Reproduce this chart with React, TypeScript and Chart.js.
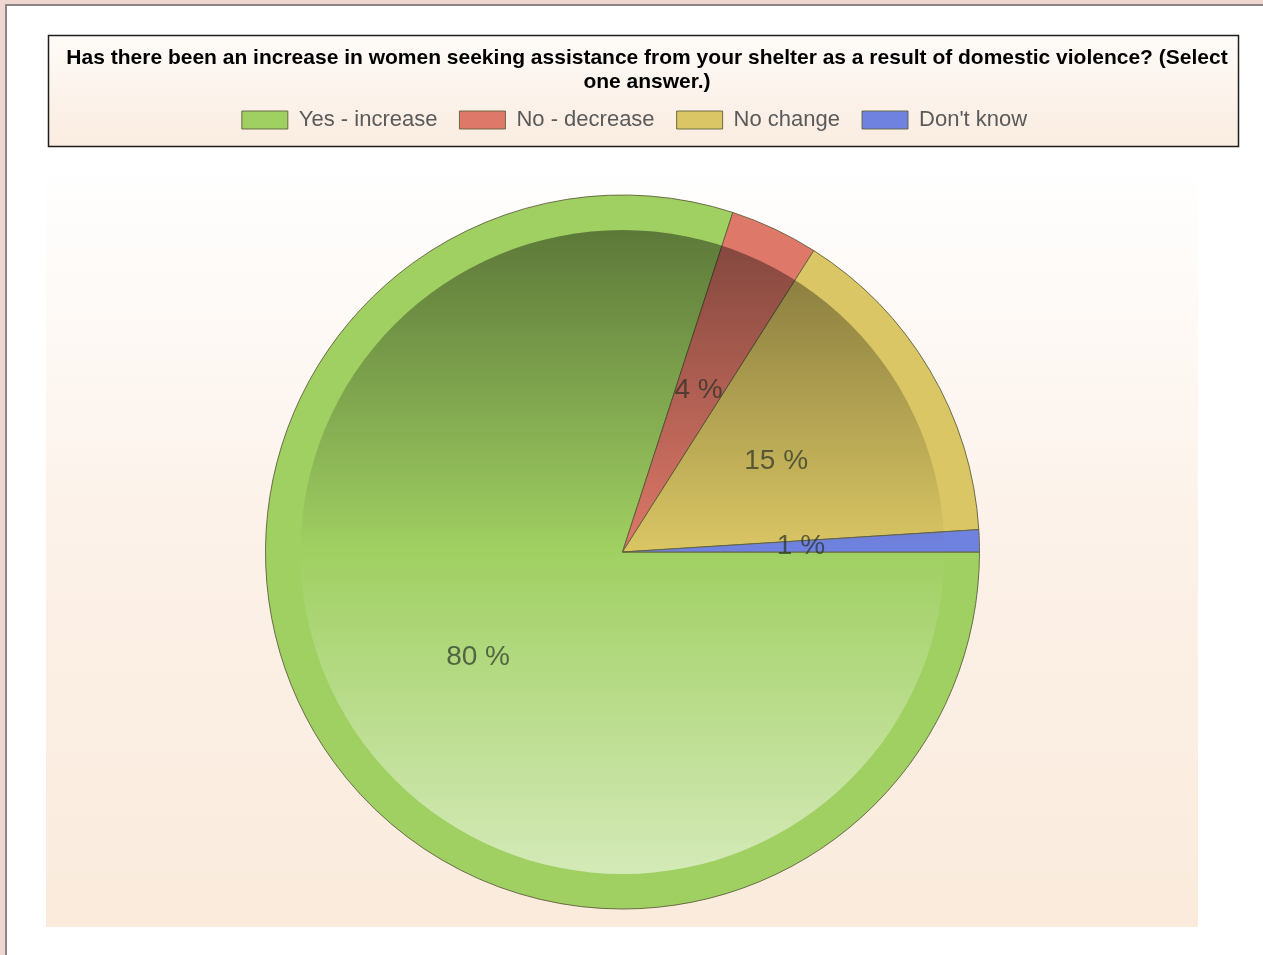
import React, { useEffect, useRef } from 'react';
import { Chart, registerables } from 'chart.js';

Chart.register(...registerables);

const titleLines = [
  'Has there been an increase in women seeking assistance from your shelter as a result of domestic violence? (Select',
  'one answer.)',
];
const categories = ['Yes - increase', 'No - decrease', 'No change', "Don't know"];
const percentages = [80, 4, 15, 1];
const sliceColors = ['#a0d062', '#de7868', '#dac664', '#7082e0'];

const backgroundPlugin = {
  id: 'pageBackground',
  beforeDraw(chart: any) {
    const ctx = chart.ctx as CanvasRenderingContext2D;
    const w = chart.width;
    const h = chart.height;
    ctx.save();
    ctx.fillStyle = '#ffffff';
    ctx.fillRect(0, 0, w, h);
    // pink frame
    ctx.fillStyle = '#efd8d2';
    ctx.fillRect(0, 0, w, 5);
    ctx.fillRect(0, 0, 6, h);
    ctx.strokeStyle = '#8e8484';
    ctx.lineWidth = 2;
    ctx.beginPath();
    ctx.moveTo(6, h);
    ctx.lineTo(6, 5);
    ctx.lineTo(w, 5);
    ctx.stroke();
    // plot area background
    const pg = ctx.createLinearGradient(0, 160, 0, 927);
    pg.addColorStop(0, '#ffffff');
    pg.addColorStop(0.5, '#fcf1e8');
    pg.addColorStop(1, '#faebdc');
    ctx.fillStyle = pg;
    ctx.fillRect(46, 160, 1152, 767);
    // title / legend box
    const tg = ctx.createLinearGradient(0, 35, 0, 146);
    tg.addColorStop(0, '#fefbf8');
    tg.addColorStop(1, '#faece0');
    ctx.fillStyle = tg;
    ctx.fillRect(48.5, 35.5, 1190, 111);
    ctx.strokeStyle = '#1e1e1e';
    ctx.lineWidth = 1.5;
    ctx.strokeRect(48.5, 35.5, 1190, 111);
    ctx.restore();
  },
};

// places the pie inside the framed plot region
const pieAreaPlugin = {
  id: 'pieArea',
  afterLayout(chart: any) {
    chart.chartArea = { left: 265, top: 194.5, right: 980, bottom: 909.5, width: 715, height: 715 };
  },
};

const glossPlugin = {
  id: 'gloss',
  afterDatasetsDraw(chart: any) {
    const meta = chart.getDatasetMeta(0);
    const arc = meta.data[0];
    if (!arc) return;
    const { x, y, outerRadius } = arc.getProps(['x', 'y', 'outerRadius'], true);
    const r = outerRadius * 0.902;
    const ctx = chart.ctx as CanvasRenderingContext2D;
    ctx.save();
    ctx.beginPath();
    ctx.arc(x, y, r, 0, Math.PI * 2);
    ctx.clip();
    const g = ctx.createLinearGradient(0, y - r, 0, y + r);
    g.addColorStop(0, 'rgba(0,0,0,0.42)');
    g.addColorStop(0.5, 'rgba(0,0,0,0)');
    g.addColorStop(0.5, 'rgba(255,255,255,0)');
    g.addColorStop(1, 'rgba(255,255,255,0.55)');
    ctx.fillStyle = g;
    ctx.fillRect(x - r, y - r, 2 * r, 2 * r);
    ctx.restore();
  },
};

const valueLabelPlugin = {
  id: 'valueLabels',
  afterDatasetsDraw(chart: any) {
    const ctx = chart.ctx as CanvasRenderingContext2D;
    const meta = chart.getDatasetMeta(0);
    const data = chart.data.datasets[0].data as number[];
    ctx.save();
    ctx.font = '28px Arial, "Liberation Sans", sans-serif';
    ctx.fillStyle = 'rgba(35,45,35,0.68)';
    ctx.textAlign = 'center';
    ctx.textBaseline = 'middle';
    meta.data.forEach((el: any, i: number) => {
      const p = el.tooltipPosition(true);
      ctx.fillText(`${data[i]} %`, p.x, p.y);
    });
    ctx.restore();
  },
};

export default function App() {
  const canvasRef = useRef<HTMLCanvasElement | null>(null);

  useEffect(() => {
    const canvas = canvasRef.current;
    if (!canvas) return;
    const chart = new Chart(canvas, {
      type: 'pie',
      data: {
        labels: categories,
        datasets: [
          {
            data: percentages,
            backgroundColor: sliceColors,
            borderColor: 'rgba(95,95,60,0.9)',
            borderWidth: 1,
          },
        ],
      },
      options: {
        animation: false,
        responsive: false,
        devicePixelRatio: 1,
        rotation: 90,
        layout: { padding: { left: 6, right: 0, top: 0, bottom: 0 } },
        plugins: {
          title: {
            display: true,
            fullSize: false,
            text: titleLines,
            color: '#000000',
            font: { family: 'Arial, "Liberation Sans", sans-serif', size: 21, weight: 'bold', lineHeight: '24px' },
            padding: { top: 46, bottom: 0 },
          },
          subtitle: {
            display: true,
            position: 'left',
            text: '',
            font: { size: 10, lineHeight: 1.2 },
            padding: { top: 6.5, bottom: 6.5 },
          },
          legend: {
            display: true,
            position: 'top',
            title: { display: true, text: '', font: { size: 1, lineHeight: 1 }, padding: { top: 0, bottom: -8 } },
            labels: {
              boxWidth: 46,
              boxHeight: 18,
              padding: 22,
              color: '#5a5a5a',
              font: { family: 'Arial, "Liberation Sans", sans-serif', size: 22 },
            },
          },
          tooltip: { enabled: false },
        },
      } as any,
      plugins: [backgroundPlugin, pieAreaPlugin, glossPlugin, valueLabelPlugin],
    });
    return () => chart.destroy();
  }, []);

  return (
    <div style={{ position: 'fixed', left: 0, top: 0, width: 1263, height: 955 }}>
      <canvas ref={canvasRef} width={1263} height={955} style={{ display: 'block', width: 1263, height: 955 }} />
    </div>
  );
}
